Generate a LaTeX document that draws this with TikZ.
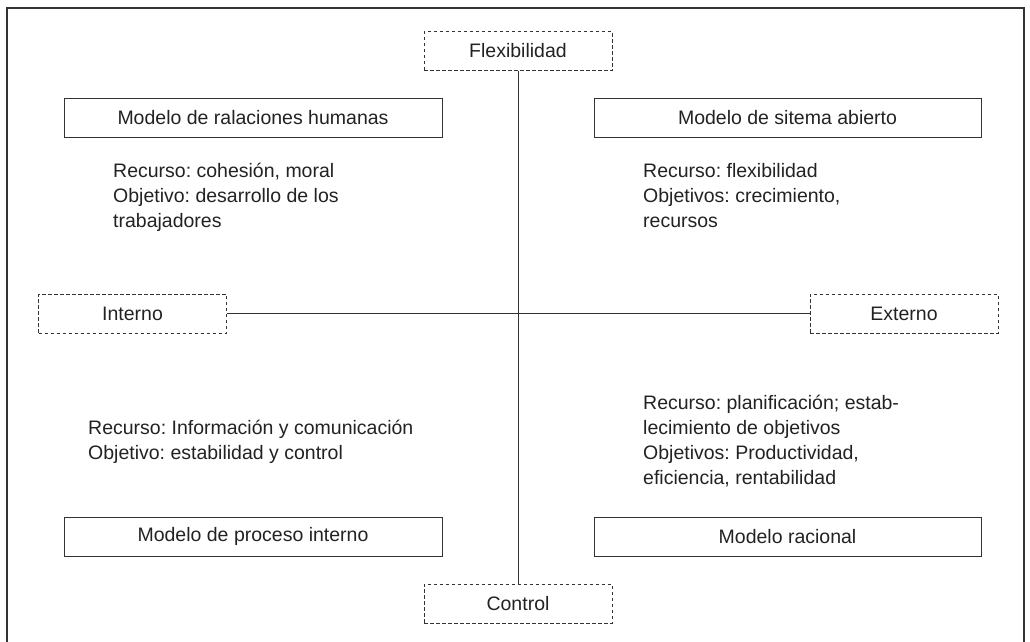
\documentclass[tikz,border=0pt]{standalone}
\usepackage{fontspec}
\setmainfont{Liberation Sans}
\definecolor{ink}{HTML}{222222}
\definecolor{edge}{HTML}{333333}
\begin{document}
\frenchspacing
\begin{tikzpicture}[x=1pt,y=-1pt,
  font=\fontsize{19.5}{25}\selectfont, text=ink,
  modelbox/.style={draw=edge, line width=0.9pt, minimum height=39pt, inner sep=0pt},
  axisbox/.style={draw=edge, line width=0.9pt, dash pattern=on 3.5pt off 2.5pt, minimum height=39pt, minimum width=188pt, inner sep=0pt},
  info/.style={anchor=base west, align=left, inner sep=0pt},
  axis/.style={draw=edge, line width=0.9pt}]
\useasboundingbox (0,0) rectangle (1030,641);
\draw[draw=edge, line width=2pt] (7,650) -- (7,8) -- (1024,8) -- (1024,650);

\node[axisbox] (flex) at (518,51) {Flexibilidad};
\node[axisbox] (ctrl) at (518,603.5) {Control};
\node[axisbox] (int) at (132.5,313.5) {Interno};
\node[axisbox] (ext) at (904,313.5) {Externo};

\node[modelbox, minimum width=378pt] (hum) at (253,117.5) {Modelo de ralaciones humanas};
\node[modelbox, minimum width=387pt] (abi) at (787.5,117.5) {Modelo de sitema abierto};
\node[modelbox, minimum width=378pt] (pro) at (253,536.5) {Modelo de proceso interno};
\node[modelbox, minimum width=387pt] (rac) at (787.5,536.5) {Modelo racional};

\draw[axis] (flex.south) -- (ctrl.north);
\draw[axis] (int.east) -- (ext.west);

% anchor = baseline of the last line
\node[info] (t1) at (113,227) {Recurso: cohesión, moral\\Objetivo: desarrollo de los\\trabajadores};
\node[info] (t2) at (643,227) {Recurso: flexibilidad\\Objetivos: crecimiento,\\recursos};
\node[info] (t3) at (88,459) {Recurso: Información y comunicación\\Objetivo: estabilidad y control};
\node[info] (t4) at (643,484) {Recurso: planificación; estab-\\lecimiento de objetivos\\Objetivos: Productividad,\\eficiencia, rentabilidad};
\end{tikzpicture}
\end{document}
